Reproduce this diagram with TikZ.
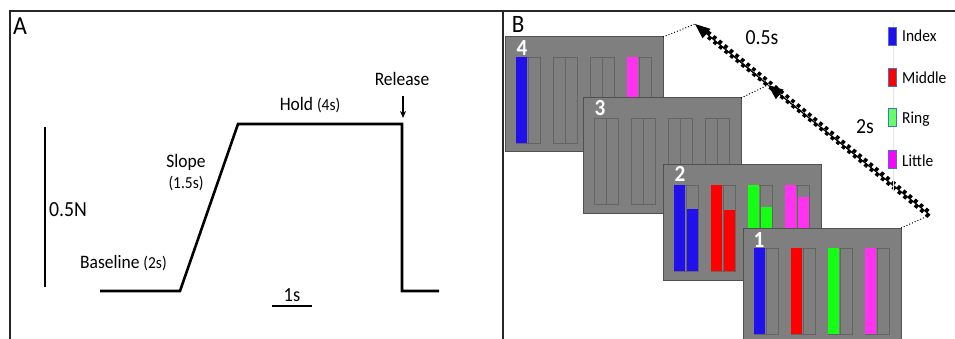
\documentclass[tikz,border=0pt]{standalone}
\usepackage{fontspec}
\setmainfont{Carlito}[FakeStretch=0.92]
\usetikzlibrary{arrows.meta,calc}
\definecolor{scr}{RGB}{127,127,127}
\definecolor{scredge}{RGB}{80,80,80}
\definecolor{baredge}{RGB}{100,100,100}
\definecolor{cIndex}{RGB}{32,16,235}
\definecolor{cMiddle}{RGB}{255,0,0}
\definecolor{cRing}{RGB}{20,255,20}
\definecolor{cLittle}{RGB}{255,50,240}
\definecolor{lRing}{RGB}{100,255,100}
\definecolor{lLittle}{RGB}{255,0,255}
\definecolor{legedge}{RGB}{68,114,196}
\newcommand{\fs}[1]{\fontsize{#1}{#1}\selectfont}
\begin{document}
\begin{tikzpicture}[x=1pt,y=-1pt,
  screen/.style={draw=scredge, fill=scr, line width=1pt, minimum width=158pt, minimum height=115pt, anchor=north west, inner sep=0pt, outer sep=0pt},
  emptybar/.style={draw=baredge, fill=scr, line width=0.8pt},
  num/.style={text=white, font=\fs{23}\bfseries, inner sep=0pt},
  trace/.style={line width=2.6pt, line join=miter},
  scalebar/.style={line width=1.3pt},
  lbl/.style={font=\fs{19}, inner sep=0pt},
  swatch/.style={draw=legedge, line width=0.8pt, minimum width=8pt, minimum height=18pt, inner sep=0pt},
  legtxt/.style={font=\fs{16.8}, anchor=west, inner sep=0pt},
  frame/.style={line width=1.3pt, draw=black!85},
  squares/.style={line width=3.6pt, dash pattern=on 3.6pt off 3.6pt}
]
\useasboundingbox (0,0) rectangle (955,339);
\clip (0,0) rectangle (955,339);
\fill[white] (0,0) rectangle (955,339);

% frame
\draw[frame] (10,339) -- (10,11) -- (955,11);
\draw[frame] (503,11) -- (503,339);
\node[font=\fs{26}, inner sep=0pt] (labA) at (20,26) {A};
\node[font=\fs{25}, inner sep=0pt] (labB) at (518,24) {B};

% ---------- Panel A ----------
\coordinate (b0) at (100,291);
\coordinate (b1) at (180,291);
\coordinate (h0) at (238,124);
\coordinate (h1) at (402,124);
\coordinate (r0) at (402,291);
\coordinate (r1) at (439,291);
\draw[trace] (b0) -- (b1) -- (h0) -- (h1) -- (r0) -- (r1);

\coordinate (vs0) at (45,127);
\coordinate (vs1) at (45,287);
\draw[scalebar] (vs0) -- (vs1);
\node[font=\fs{21.5}, anchor=west, inner sep=0pt] (force) at (49,210) {0.5N};
\coordinate (hs0) at (272,306);
\coordinate (hs1) at (312,306);
\draw[scalebar] (hs0) -- (hs1);
\node[font=\fs{20}, inner sep=0pt] (onesec) at (292,295) {1s};

\node[lbl] (release) at (402,79) {Release};
\coordinate (rarr) at (403,118);
\draw[line width=1.4pt, -{Stealth[length=7pt,width=6pt]}] (403,96) -- (rarr);
\node[lbl] (hold) at (310,105) {Hold {\fs{16.8}(4s)}};
\node[lbl] (slope) at (186,162) {Slope};
\node[lbl, font=\fs{16.8}] (slopet) at (186,184) {(1.5s)};
\node[lbl, anchor=west] (base) at (80,263) {Baseline {\fs{16.8}(2s)}};

% ---------- Panel B ----------
% screen 4
\node[screen] (s4) at (505,37) {};
\begin{scope}[shift={(s4.north west)}]
  \foreach \p in {0,1,2,3}{\foreach \s in {0,1}{
    \draw[emptybar] (11+37*\p+12*\s,20) rectangle ++(12,86);}}
  \fill[cIndex] (11,20) rectangle ++(11.4,86);
  \fill[cLittle] (11+37*3,20) rectangle ++(11.4,86);
  \node[num] (n4) at (17,11) {4};
\end{scope}
% screen 3
\node[screen] (s3) at (583,98) {};
\begin{scope}[shift={(s3.north west)}]
  \foreach \p in {0,1,2,3}{\foreach \s in {0,1}{
    \draw[emptybar] (11+37*\p+12*\s,20) rectangle ++(12,86);}}
  \node[num] (n3) at (17,10) {3};
\end{scope}
% screen 2
\node[screen] (s2) at (663,165) {};
\begin{scope}[shift={(s2.north west)}]
  \foreach \p in {0,1,2,3}{\foreach \s in {0,1}{
    \draw[emptybar] (11+37*\p+12*\s,20) rectangle ++(12,86);}}
  \foreach \p/\c/\t in {0/cIndex/44, 1/cMiddle/45, 2/cRing/42, 3/cLittle/32}{
    \fill[\c] (11+37*\p,20) rectangle ++(11.2,86);
    \fill[\c] (23.8+37*\p,\t) rectangle (35+37*\p,106);
  }
  \node[num] (n2) at (17,9) {2};
\end{scope}
% screen 1
\node[screen] (s1) at (743,228) {};
\begin{scope}[shift={(s1.north west)}]
  \foreach \p in {0,1,2,3}{\foreach \s in {0,1}{
    \draw[emptybar] (11+37*\p+12*\s,20) rectangle ++(12,86);}}
  \foreach \p/\c in {0/cIndex, 1/cMiddle, 2/cRing, 3/cLittle}{
    \fill[\c] (11+37*\p,20) rectangle ++(11.4,86);
  }
  \node[num] (n1) at (16,12) {1};
\end{scope}

% timing arrow
\coordinate (t4) at (695,24);
\coordinate (t3) at (768,85);
\coordinate (t1) at (930,215);
\draw[dotted, line width=1pt] (s4.north east) -- (t4);
\draw[dotted, line width=1pt] (s3.north east) -- (t3);
\draw[dotted, line width=1pt] (s1.north east) -- (t1);
\coordinate (t4e) at ($(t4)!10pt!(t1)$);
\draw[squares] ($(t1)!1.9pt!90:(t4)$) -- ($(t4e)!1.9pt!-90:(t1)$);
\draw[squares, dash phase=3.6pt] ($(t1)!1.9pt!-90:(t4)$) -- ($(t4e)!1.9pt!90:(t1)$);
\draw[line width=1.2pt, -{Triangle[length=15pt,width=12pt]}] (t1) -- (t3);
\draw[line width=1.2pt, -{Triangle[length=15pt,width=12pt]}] (t3) -- (t4);
\node[font=\fs{21.5}, inner sep=0pt] (half) at (762,38) {0.5s};
\node[font=\fs{21.5}, inner sep=0pt] (two) at (865,127) {2s};

% legend
\draw[gray!20, line width=0.6pt] (893,22) -- (893,190);
\node[swatch, fill=cIndex] (li) at (892,36) {};
\node[legtxt] (lit) at (902,36) {Index};
\node[swatch, fill=cMiddle] (lm) at (892,77) {};
\node[legtxt] (lmt) at (902,78) {Middle};
\node[swatch, fill=lRing] (lr) at (892,117) {};
\node[legtxt] (lrt) at (902,119) {Ring};
\node[swatch, fill=lLittle] (ll) at (892,159) {};
\node[legtxt] (llt) at (902,161) {Little};
\end{tikzpicture}
\end{document}
